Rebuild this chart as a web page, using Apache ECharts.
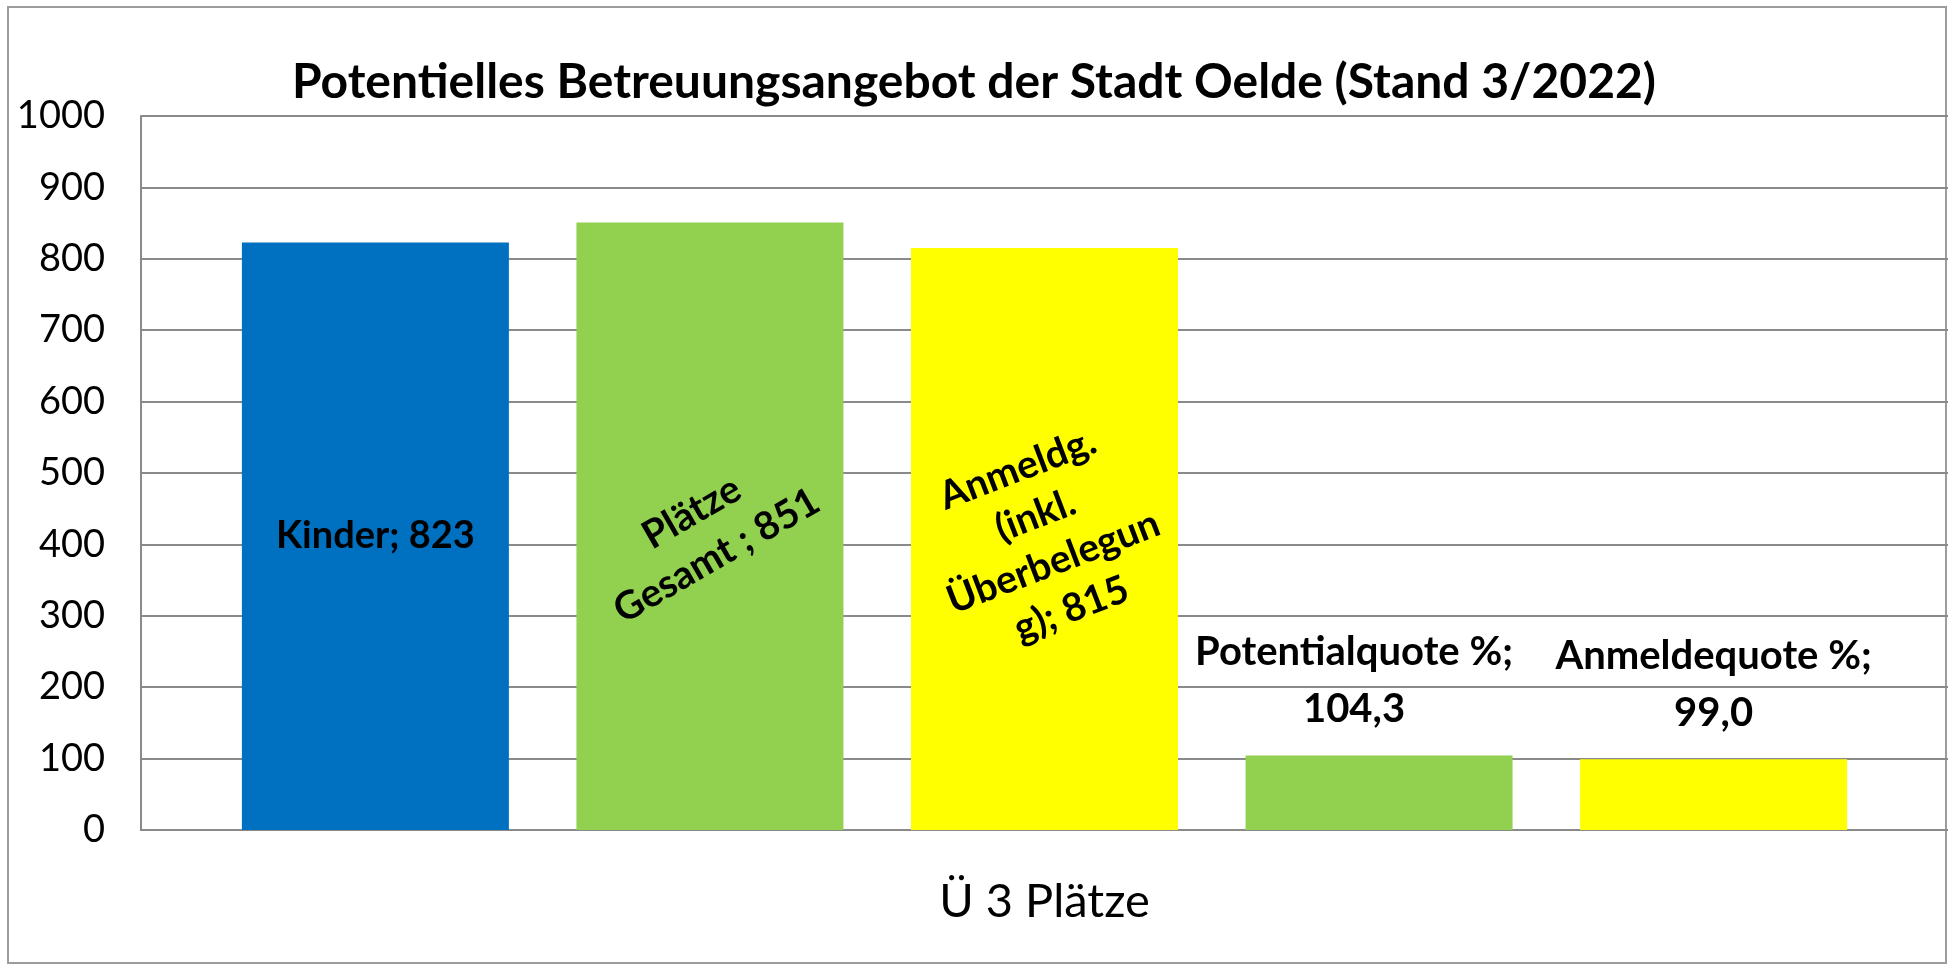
<!DOCTYPE html>
<html>
<head>
<meta charset="utf-8">
<title>Potentielles Betreuungsangebot der Stadt Oelde</title>
<script src="https://cdn.jsdelivr.net/npm/echarts@6/dist/echarts.min.js"></script>
<style>
  html, body { margin: 0; padding: 0; background: #fff; }
  #chart { width: 1948px; height: 965px; }
</style>
</head>
<body>
<div id="chart"></div>
<script>
// data
const categories = ['Ü 3 Plätze']
const seriesNames = ['Kinder', 'Plätze Gesamt ', 'Anmeldg. (inkl. Überbelegung)', 'Potentialquote %', 'Anmeldequote %']
const seriesValues = [823, 851, 815, 104.3, 99.0]
const valueDecimals = [0, 0, 0, 1, 1]
// wrapped the way the labels appear in the chart
const labelNames = ['Kinder', 'Plätze\nGesamt ', 'Anmeldg.\n(inkl.\nÜberbelegun\ng)', 'Potentialquote %', 'Anmeldequote %']
const labelSeparators = [' ', ' ', ' ', '\n', '\n']
const yTicks = [0, 1000, 100] // min, max, interval

const colors = ['#0070C0', '#92D050', '#FFFF00', '#92D050', '#FFFF00']
const font = 'Lato'

// label placement per series
const labelLayouts = [
  { position: 'inside', fontSize: 38 },
  { position: 'inside', fontSize: 39, rotate: 30, offset: [-9, 4] },
  { position: 'inside', fontSize: 39, rotate: 21 },
  { position: 'top', fontSize: 40, lineHeight: 57, distance: 18, offset: [-25, 0] },
  { position: 'top', fontSize: 40, lineHeight: 57, distance: 18 }
]

function fmt(v, d) {
  return v.toFixed(d).replace('.', ',')
}

const chart = echarts.init(document.getElementById('chart'))

chart.setOption({
  animation: false,
  title: {
    text: 'Potentielles Betreuungsangebot der Stadt Oelde (Stand 3/2022)',
    left: 'center',
    top: 59,
    padding: 0,
    textStyle: { fontFamily: font, fontSize: 48, fontWeight: 'bold', color: '#000' }
  },
  graphic: [{
    type: 'rect',
    silent: true,
    z: -10,
    shape: { x: 8, y: 7, width: 1938, height: 956 },
    style: { fill: 'none', stroke: '#9c9c9c', lineWidth: 2 }
  }],
  grid: { left: 141, right: 0, top: 116, bottom: 135 },
  xAxis: {
    type: 'category',
    data: categories,
    axisLine: { lineStyle: { color: '#8a8a8a', width: 2 } },
    axisTick: { show: false },
    axisLabel: {
      fontFamily: font, fontSize: 47, color: '#000',
      lineHeight: 47, margin: 48
    }
  },
  yAxis: {
    type: 'value',
    min: yTicks[0],
    max: yTicks[1],
    interval: yTicks[2],
    axisLine: { show: true, lineStyle: { color: '#8a8a8a', width: 2 } },
    axisTick: { show: false },
    splitLine: { lineStyle: { color: '#8a8a8a', width: 2 } },
    axisLabel: {
      fontFamily: font, fontSize: 38, color: '#000', margin: 36,
      formatter: v => String(v)
    }
  },
  series: seriesValues.map((v, i) => ({
    name: seriesNames[i],
    type: 'bar',
    data: [v],
    barWidth: 267,
    barGap: '25.3%',
    itemStyle: { color: colors[i] },
    label: Object.assign({
      show: true,
      fontFamily: font,
      fontWeight: 'bold',
      color: '#000',
      lineHeight: 50,
      formatter: () => labelNames[i] + ';' + labelSeparators[i] + fmt(v, valueDecimals[i])
    }, labelLayouts[i])
  }))
})
</script>
</body>
</html>
